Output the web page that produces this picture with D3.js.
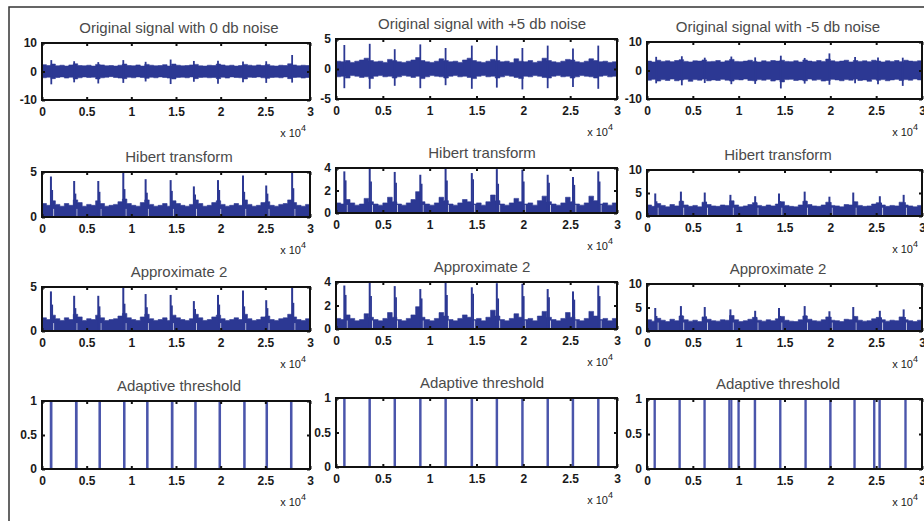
<!DOCTYPE html>
<html><head><meta charset="utf-8">
<script src="https://cdn.jsdelivr.net/npm/d3@7"></script>
<style>body{margin:0;background:#fff}svg{display:block}</style>
</head><body>
<svg id="c" width="924" height="521"></svg>
<script>
// ---------- DATA (x in units of 10^4 samples) ----------
const xTickValues = [0, 0.5, 1, 1.5, 2, 2.5, 3];
const xTickLabels = ["0", "0.5", "1", "1.5", "2", "2.5", "3"];
const binWidth = 0.05; // each envelope value covers 500 samples

// Row 1: original signals, upper / lower envelope of the noise band
const sig0Hi = [2.4,2.1,2.6,2.0,2.2,1.9,2.3,2.7,2.1,2.0,2.2,1.9,2.5,2.3,2.0,2.1,1.9,2.2,2.6,2.1,2.0,2.3,1.9,2.5,2.2,2.0,2.1,2.4,1.9,2.6,2.2,2.0,2.1,2.3,2.5,2.0,1.9,2.2,2.1,2.6,2.3,2.0,2.2,1.9,2.1,2.5,2.2,2.0,2.3,2.1,2.5,2.0,1.9,2.2,2.1,2.7,2.3,2.0,2.2,2.1];
const sig0Lo = [-2.2,-2.0,-2.5,-2.1,-1.9,-2.3,-2.0,-2.6,-2.2,-1.9,-2.1,-2.0,-2.6,-2.2,-2.0,-1.8,-2.1,-2.3,-2.5,-2.0,-2.2,-1.9,-2.1,-2.4,-2.0,-2.2,-1.9,-2.1,-2.3,-2.6,-2.1,-2.0,-2.2,-1.9,-2.5,-2.1,-2.0,-2.2,-2.1,-2.5,-2.0,-2.3,-1.9,-2.1,-2.2,-2.6,-2.0,-2.1,-1.9,-2.2,-2.4,-2.1,-2.0,-2.2,-1.9,-2.5,-2.1,-2.0,-2.3,-2.1];
const sig0Spikes = [[0.104,4.0,-4.5],[0.36,3.6,-3.8],[0.63,3.3,-4.2],[0.91,4.0,-4.0],[1.16,3.4,-3.5],[1.44,4.2,-4.4],[1.70,3.7,-3.6],[1.97,3.8,-4.3],[2.25,3.5,-3.8],[2.51,3.6,-4.0],[2.80,5.8,-3.9]];

const sigP5Hi = [1.3,1.2,1.4,1.1,1.3,1.5,1.8,1.4,1.2,1.3,1.1,1.6,1.4,1.2,1.1,1.3,1.5,1.9,1.4,1.2,1.1,1.3,1.7,1.4,1.2,1.3,1.1,1.5,1.8,1.4,1.2,1.1,1.3,1.6,1.4,1.2,1.3,1.1,1.7,1.3,1.2,1.4,1.1,1.3,1.8,1.4,1.2,1.1,1.3,1.6,1.5,1.2,1.1,1.3,1.7,1.4,1.2,1.3,1.1,1.2];
const sigP5Lo = [-1.3,-1.2,-1.5,-1.1,-1.2,-1.4,-1.3,-1.6,-1.2,-1.1,-1.3,-1.2,-1.5,-1.3,-1.1,-1.2,-1.4,-1.2,-1.6,-1.3,-1.1,-1.2,-1.3,-1.5,-1.2,-1.1,-1.3,-1.2,-1.4,-1.6,-1.2,-1.1,-1.3,-1.2,-1.5,-1.3,-1.1,-1.2,-1.4,-1.6,-1.2,-1.3,-1.1,-1.2,-1.4,-1.5,-1.2,-1.1,-1.3,-1.2,-1.5,-1.3,-1.1,-1.2,-1.3,-1.5,-1.2,-1.1,-1.3,-1.2];
const sigP5Spikes = [[0.089,4.0,-3.2],[0.36,4.2,-3.3],[0.627,3.3,-2.8],[0.90,4.1,-3.2],[1.17,3.5,-2.7],[1.45,3.9,-3.3],[1.717,3.9,-3.1],[1.99,3.5,-3.4],[2.26,3.9,-3.2],[2.53,3.4,-3.0],[2.80,3.9,-3.3]];

const sigM5Hi = [3.3,3.0,3.6,3.2,3.4,3.1,3.5,3.8,3.2,3.0,3.4,3.3,3.7,3.1,3.2,3.5,3.0,3.4,3.9,3.2,3.1,3.3,3.6,3.2,3.0,3.4,3.1,3.5,3.3,3.6,3.2,3.1,3.4,3.0,3.7,3.3,3.1,3.5,3.2,4.0,3.4,3.1,3.3,3.6,3.0,3.5,3.2,3.4,3.1,3.6,3.3,3.0,3.4,3.2,3.5,3.1,3.6,3.3,3.2,3.4];
const sigM5Lo = [-3.4,-3.1,-3.7,-3.2,-3.5,-3.0,-3.6,-3.3,-3.1,-3.8,-3.2,-3.4,-3.0,-3.6,-3.3,-3.5,-3.1,-3.4,-3.7,-3.2,-3.3,-3.0,-3.5,-3.6,-3.2,-3.4,-3.1,-3.7,-3.3,-4.0,-3.2,-3.1,-3.5,-3.3,-3.6,-3.0,-3.4,-3.2,-3.7,-3.5,-3.1,-3.3,-3.6,-3.2,-3.4,-3.0,-3.5,-3.3,-3.8,-3.1,-3.4,-3.2,-3.6,-3.3,-3.1,-3.5,-3.2,-3.4,-3.0,-3.3];
const sigM5Spikes = [[0.10,4.8,-4.5],[0.38,5.0,-5.2],[0.63,4.5,-4.4],[0.92,4.9,-4.8],[1.18,4.6,-4.7],[1.46,5.2,-6.3],[1.72,4.4,-4.6],[1.99,6.0,-5.0],[2.27,4.7,-4.5],[2.52,4.6,-4.8],[2.79,4.5,-5.4]];

// Rows 2 and 3: Hilbert envelope (approximation 2 looks the same), band top and [pos, peak, shoulder]
const hil0Hi = [1.5,1.3,1.8,1.4,1.2,1.5,1.3,1.9,1.6,1.2,1.4,1.3,1.8,1.5,1.2,1.3,1.4,1.7,2.0,1.5,1.3,1.2,1.6,1.9,1.4,1.2,1.3,1.5,1.2,1.8,1.5,1.3,1.2,1.4,1.9,1.5,1.2,1.3,1.6,1.8,1.4,1.2,1.3,1.5,1.3,1.9,1.4,1.2,1.3,1.6,1.7,1.3,1.2,1.4,1.5,1.9,1.6,1.3,1.2,1.4];
const hil0Spikes = [[0.10,4.5,3.0],[0.36,4.0,2.6],[0.63,4.0,2.8],[0.91,4.9,3.1],[1.16,4.2,2.7],[1.44,4.1,2.9],[1.70,3.4,2.5],[1.97,4.1,3.0],[2.25,4.6,2.8],[2.51,3.5,2.6],[2.80,4.9,3.2]];

const hilP5Hi = [0.9,0.8,1.2,0.9,0.7,0.8,1.3,1.0,0.8,0.7,0.9,1.4,1.0,0.8,0.7,0.9,1.2,1.9,1.0,0.8,0.7,0.9,1.4,1.1,0.8,0.7,0.9,1.2,1.0,0.8,0.9,0.7,1.0,1.6,1.1,0.8,0.7,0.9,1.3,1.0,0.8,0.9,0.7,1.1,1.5,1.0,0.8,0.7,0.9,1.4,1.0,0.8,0.7,0.9,1.5,1.1,0.8,0.9,0.7,0.9];
const hilP5Spikes = [[0.089,3.7,2.9],[0.36,4.0,2.8],[0.627,3.65,2.7],[0.90,3.4,2.6],[1.17,4.0,2.9],[1.45,3.55,3.0],[1.717,3.9,2.6],[1.99,3.85,2.8],[2.26,3.4,2.7],[2.53,3.2,2.5],[2.80,3.7,2.8]];

const hilM5Hi = [2.4,2.1,2.7,2.3,2.0,2.5,2.2,3.2,2.4,2.1,2.3,2.0,3.0,2.5,2.2,2.1,2.4,2.3,3.3,2.4,2.0,2.2,2.5,2.9,2.3,2.1,2.4,2.2,2.6,3.1,2.3,2.1,2.0,2.4,3.2,2.5,2.2,2.1,2.4,3.0,2.3,2.2,2.0,2.5,2.4,3.1,2.3,2.1,2.2,2.6,2.9,2.4,2.1,2.3,2.2,3.0,2.4,2.2,2.0,2.3];
const hilM5Spikes = [[0.09,4.9,3.2],[0.37,5.3,3.3],[0.63,5.1,3.1],[0.91,4.6,3.0],[1.18,4.3,2.9],[1.44,4.9,3.2],[1.72,5.3,3.3],[1.99,4.2,3.0],[2.25,5.1,3.1],[2.54,4.3,2.9],[2.80,4.6,3.0]];

// Row 4: adaptive threshold pulses [start, end]
const thr0 = [[0.098,0.106],[0.380,0.388],[0.643,0.649],[0.918,0.924],[1.176,1.182],[1.453,1.461],[1.715,1.721],[1.987,1.993],[2.263,2.269],[2.513,2.519],[2.787,2.793]];
const thrP5 = [[0.087,0.092],[0.357,0.362],[0.625,0.630],[0.898,0.903],[1.168,1.173],[1.447,1.453],[1.715,1.720],[1.988,1.993],[2.258,2.263],[2.527,2.532],[2.798,2.803]];
const thrM5 = [[0.082,0.086],[0.354,0.358],[0.626,0.630],[0.897,0.921],[0.997,1.001],[1.175,1.180],[1.452,1.456],[1.728,1.732],[1.998,2.003],[2.262,2.266],[2.477,2.481],[2.535,2.540],[2.818,2.822]];

const colTitles1 = ["Original signal with 0 db noise", "Original signal with +5 db noise", "Original signal with -5 db noise"];
const rowTitles = [null, "Hibert transform", "Approximate 2", "Adaptive threshold"];
const yTicksRow1 = [[-10,0,10],[-5,0,5],[-10,0,10]];
const yTicksRow2 = [[0,5],[0,2,4],[0,5,10]];
const yTicksRow4 = [0,0.5,1];

// ---------- LAYOUT ----------
const colX = [[42,310],[336,617],[647,922]];
const titleX = [179,482,778];
const rowY = [
  [[43,100],[39,99],[42,99]],
  [[172,217],[168,213],[170,216]],
  [[287,331],[282,329],[284,331]],
  [[401,469],[398,467],[399,469]]
];
const BLUE = "#2c3893";
const PULSE = "#4a55ab";
const FONT = "'Liberation Sans', Arial, sans-serif";

const svg = d3.select("#c");
svg.append("path").attr("d","M9,521V7H924").attr("fill","none").attr("stroke","#333").attr("stroke-width",1.5);

const panels = [];
const sigHi = [sig0Hi, sigP5Hi, sigM5Hi], sigLo = [sig0Lo, sigP5Lo, sigM5Lo], sigSp = [sig0Spikes, sigP5Spikes, sigM5Spikes];
const hilHi = [hil0Hi, hilP5Hi, hilM5Hi], hilSp = [hil0Spikes, hilP5Spikes, hilM5Spikes];
const thr = [thr0, thrP5, thrM5];
for (let c = 0; c < 3; c++) {
  const yt1 = yTicksRow1[c];
  panels.push({row:0,col:c,title:colTitles1[c],kind:"sig",yDomain:[yt1[0],yt1[yt1.length-1]],yTicks:yt1,hi:sigHi[c],lo:sigLo[c],spikes:sigSp[c]});
}
for (let r = 1; r <= 2; r++) for (let c = 0; c < 3; c++) {
  const yt = yTicksRow2[c];
  panels.push({row:r,col:c,title:rowTitles[r],kind:"env",yDomain:[yt[0],yt[yt.length-1]],yTicks:yt,hi:hilHi[c],spikes:hilSp[c]});
}
for (let c = 0; c < 3; c++) panels.push({row:3,col:c,title:rowTitles[3],kind:"thr",yDomain:[0,1],yTicks:yTicksRow4,pulses:thr[c]});

const defs = svg.append("defs");
panels.forEach((p, k) => {
  const [x0,x1] = colX[p.col];
  const [y0,y1] = rowY[p.row][p.col];
  const x = d3.scaleLinear().domain([0,3]).range([x0,x1]);
  const y = d3.scaleLinear().domain(p.yDomain).range([y1,y0]);
  const g = svg.append("g");
  const cid = "clip"+k;
  defs.append("clipPath").attr("id",cid).append("rect").attr("x",x0-1).attr("y",y0-1).attr("width",x1-x0+2).attr("height",y1-y0+2);
  const dg = g.append("g").attr("clip-path",`url(#${cid})`);

  if (p.kind === "sig" || p.kind === "env") {
    const pts = p.hi.map((h,i) => ({x:i*binWidth, hi:h, lo: p.lo ? p.lo[i] : 0}));
    pts.push({x:3, hi:p.hi[p.hi.length-1], lo: p.lo ? p.lo[p.lo.length-1] : 0});
    const area = d3.area().curve(d3.curveStepAfter).x(d=>x(d.x)).y0(d=>y(d.lo)).y1(d=>y(d.hi));
    dg.append("path").datum(pts).attr("d",area).attr("fill",BLUE).attr("stroke",BLUE).attr("stroke-width",0.6);
    if (p.kind === "sig") {
      dg.selectAll(".sp").data(p.spikes).join("line")
        .attr("x1",d=>x(d[0])).attr("x2",d=>x(d[0]))
        .attr("y1",d=>y(d[2])).attr("y2",d=>y(d[1]))
        .attr("stroke",BLUE).attr("stroke-width",1.8);
    } else {
      dg.selectAll(".gap").data(p.spikes).join("line")
        .attr("x1",d=>x(d[0]+0.03)).attr("x2",d=>x(d[0]+0.03))
        .attr("y1",y(0)).attr("y2",y(p.yDomain[1]*0.18))
        .attr("stroke","#fff").attr("stroke-width",0.9).attr("opacity",0.8);
      dg.selectAll(".sp").data(p.spikes).join("line")
        .attr("x1",d=>x(d[0])).attr("x2",d=>x(d[0]))
        .attr("y1",y(0)).attr("y2",d=>y(d[1]))
        .attr("stroke",BLUE).attr("stroke-width",2);
      dg.selectAll(".sh").data(p.spikes).join("line")
        .attr("x1",d=>x(d[0]+0.014)).attr("x2",d=>x(d[0]+0.014))
        .attr("y1",y(0)).attr("y2",d=>y(d[2]))
        .attr("stroke",BLUE).attr("stroke-width",1.8);
    }
  } else {
    const pts = [[0,0]];
    p.pulses.forEach(([s,e]) => { pts.push([s,0],[s,1],[e,1],[e,0]); });
    pts.push([3,0]);
    dg.append("path").datum(pts).attr("d",d3.line().x(d=>x(d[0])).y(d=>y(d[1])))
      .attr("fill","none").attr("stroke",PULSE).attr("stroke-width",2);
  }

  // box
  g.append("rect").attr("x",x0).attr("y",y0).attr("width",x1-x0).attr("height",y1-y0)
    .attr("fill","none").attr("stroke","#111").attr("stroke-width",2);

  const styleAxis = sel => {
    sel.select(".domain").remove();
    sel.selectAll(".tick line").attr("stroke","#111").attr("stroke-width",2);
    sel.selectAll("text").attr("font-family",FONT).attr("font-size",12).attr("font-weight","bold").attr("fill","#1a1a1a");
  };
  g.append("g").attr("transform",`translate(0,${y1})`)
    .call(d3.axisBottom(x).tickValues(xTickValues).tickFormat((d,i)=>xTickLabels[i]).tickSize(-3).tickPadding(7))
    .call(styleAxis);
  g.append("g").attr("transform",`translate(0,${y0})`)
    .call(d3.axisTop(x).tickValues(xTickValues).tickFormat("").tickSize(-3)).call(styleAxis);
  g.append("g").attr("transform",`translate(${x0},0)`)
    .call(d3.axisLeft(y).tickValues(p.yTicks).tickFormat(d=>String(d)).tickSize(-3).tickPadding(5))
    .call(styleAxis);
  g.append("g").attr("transform",`translate(${x1},0)`)
    .call(d3.axisRight(y).tickValues(p.yTicks).tickFormat("").tickSize(-3)).call(styleAxis);

  // title
  g.append("text").attr("x",titleX[p.col]).attr("y",y0-10).attr("text-anchor","middle")
    .attr("font-family",FONT).attr("font-size",15).attr("fill","#4a4a4a").text(p.title);

  // x 10^4 multiplier
  const m = g.append("text").attr("x",x1-4).attr("y",y1+37).attr("text-anchor","end")
    .attr("font-family",FONT).attr("font-size",11).attr("fill","#1a1a1a");
  m.append("tspan").text("x 10");
  m.append("tspan").attr("dy",-6).attr("font-size",9).text("4");
});
</script>
</body></html>
